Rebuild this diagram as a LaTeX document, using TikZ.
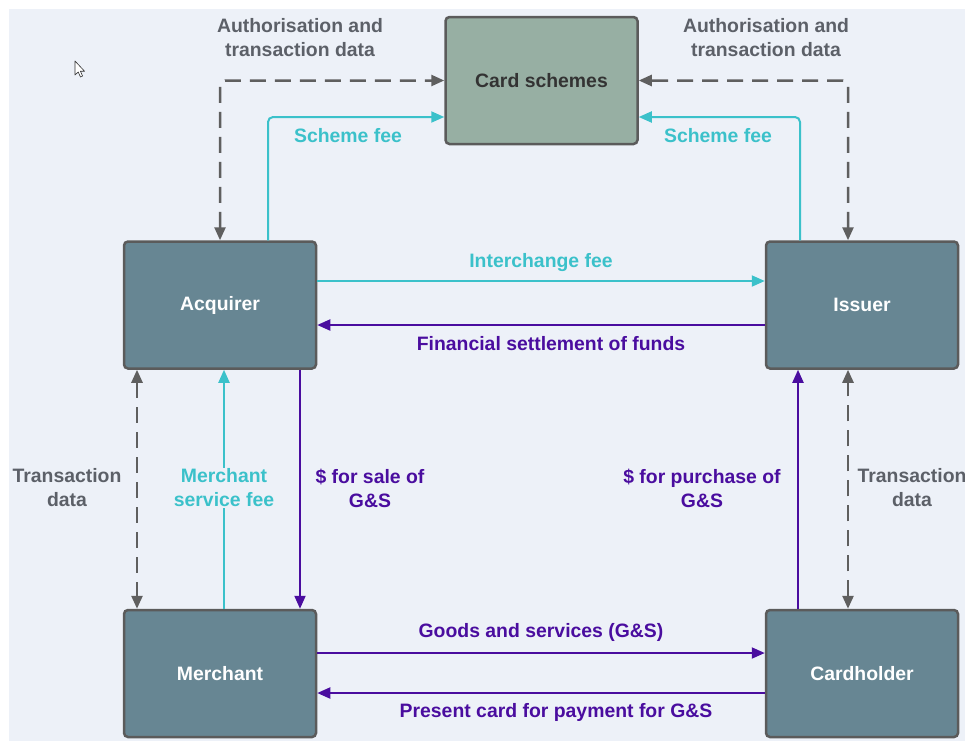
\documentclass[tikz,border=0pt]{standalone}
\usepackage{fontspec}
\setmainfont{Liberation Sans}
\usetikzlibrary{arrows.meta,calc}
\definecolor{bgc}{HTML}{EDF1F8}
\definecolor{tealc}{HTML}{3BC1CA}
\definecolor{purp}{HTML}{4A0D9F}
\definecolor{dgray}{HTML}{5F5F5F}
\definecolor{lgray}{HTML}{5C6068}
\definecolor{boxfill}{HTML}{678693}
\definecolor{schemefill}{HTML}{97AFA3}
\definecolor{bordc}{HTML}{5B5B5B}
\begin{document}
\begin{tikzpicture}[x=1pt,y=-1pt,
  box/.style={draw=bordc,line width=2.5pt,rounded corners=4pt,fill=boxfill,
    minimum width=192pt,minimum height=127pt,inner sep=0pt,
    text=white,font=\fontsize{19.4}{22}\selectfont\bfseries},
  tip/.style={-{Triangle[length=13pt,width=11pt]}},
  tipboth/.style={{Triangle[length=13pt,width=11pt]}-{Triangle[length=13pt,width=11pt]}},
  tealline/.style={draw=tealc,line width=2pt,tip,rounded corners=5pt},
  purpline/.style={draw=purp,line width=2pt,tip},
  dashline/.style={draw=dgray,line width=2.5pt,tipboth,dash pattern=on 16pt off 9pt,rounded corners=5pt},
  lbl/.style={font=\fontsize{19.4}{24}\selectfont\bfseries,align=center,inner sep=1pt},
  tlbl/.style={lbl,text=tealc},
  plbl/.style={lbl,text=purp},
  glbl/.style={lbl,text=lgray}]
\useasboundingbox (0,0) rectangle (965,745);
\fill[white] (0,0) rectangle (965,745);
\fill[bgc] (9,9) rectangle (965,741);
% cursor
\draw[black!80,fill=white,line width=0.6pt,line join=round] (75,61) -- (75,75) -- (78.2,72) -- (80.5,77) -- (82.6,76) -- (80.4,71.2) -- (84.5,71.2) -- cycle;
% boxes
\node[box,fill=schemefill,text=black!80] (cs) at (541.5,80.5) {Card schemes};
\node[box] (acq) at (220,305) {Acquirer};
\node[box] (iss) at (862,305) {Issuer};
\node[box] (mer) at (220,673.5) {Merchant};
\node[box] (ch) at (862,673.5) {Cardholder};
% top connectors
\draw[dashline] (acq.north) |- (cs.west);
\draw[dashline] ([xshift=-14pt]iss.north) |- (cs.east);
\draw[tealline] ([xshift=48pt]acq.north) |- ([yshift=-36.5pt]cs.west);
\draw[tealline] ([xshift=-62pt]iss.north) |- ([yshift=-36.5pt]cs.east);
\node[glbl] (l1) at (300,38) {Authorisation and\\transaction data};
\node[glbl] (l2) at (766,38) {Authorisation and\\transaction data};
\node[tlbl] (l3) at (348,135.5) {Scheme fee};
\node[tlbl] (l4) at (718,135.5) {Scheme fee};
% acquirer-issuer
\draw[tealline] ([yshift=24pt]acq.east) -- ([yshift=24pt]iss.west);
\draw[purpline] ([yshift=-20pt]iss.west) -- ([yshift=-20pt]acq.east);
\node[tlbl] (l5) at (541,263) {Interchange fee};
\node[plbl] (l6) at (551,343.5) {Financial settlement of funds};
% verticals
\draw[dashline] ([xshift=-83pt]acq.south) -- ([xshift=-83pt]mer.north);
\draw[purpline] ([xshift=80pt]acq.south) -- ([xshift=80pt]mer.north);
\draw[tealline] ([xshift=4pt]mer.north) -- ([xshift=4pt]acq.south);
\draw[purpline] ([xshift=-64pt]ch.north) -- ([xshift=-64pt]iss.south);
\draw[dashline] ([xshift=-14pt]ch.north) -- ([xshift=-14pt]iss.south);
\node[glbl] (l7) at (67,488) {Transaction\\data};
\node[tlbl,fill=bgc] (l8) at (224,488) {Merchant\\service fee};
\node[plbl] (l9) at (370,488) {\$ for sale of\\G\&S};
\node[plbl] (l10) at (702,488) {\$ for purchase of\\G\&S};
\node[glbl] (l11) at (912,488) {Transaction\\data};
% bottom
\draw[purpline] ([yshift=20.5pt]mer.east) -- ([yshift=20.5pt]ch.west);
\draw[purpline] ([yshift=-19.5pt]ch.west) -- ([yshift=-19.5pt]mer.east);
\node[plbl] (l12) at (541,632.5) {Goods and services (G\&S)};
\node[plbl] (l13) at (556,712.5) {Present card for payment for G\&S};
\end{tikzpicture}
\end{document}
